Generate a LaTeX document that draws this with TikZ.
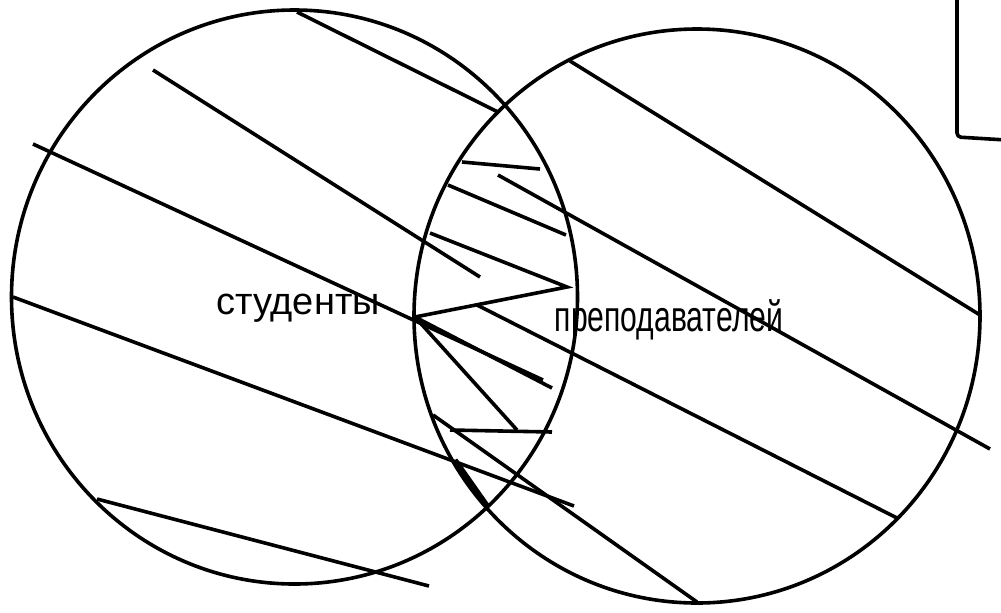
\documentclass[tikz,border=0pt]{standalone}
\usepackage{fontspec}
\setmainfont{Liberation Sans}
\newfontfamily\narrowsans[FakeStretch=0.7]{Liberation Sans}
\usetikzlibrary{positioning}
\definecolor{ink}{RGB}{0,0,0}
\tikzset{
  ring/.style={draw=ink,line width=1.8pt},
  hatch/.style={draw=ink,line width=1.8pt},
  lbl/.style={inner sep=0pt,anchor=base,font=\fontsize{19}{22}\selectfont},
}

\begin{document}
\begin{tikzpicture}[x=0.5pt,y=-0.5pt]
  \useasboundingbox (0,0) rectangle (1001,612);
  % the two sets
  \draw[ring] (294.5,297) ellipse [x radius=283,y radius=287];
  \draw[ring] (697,316) ellipse [x radius=283,y radius=287];
  % corner of a box cut by the page edge
  \draw[ring,rounded corners=2] (957,-4) -- (957,137) -- (1006,140);
  % labels
  \node[lbl] (stud) at (298,314) {студенты};
  \node[lbl,font=\narrowsans\fontsize{21.5}{26}\selectfont] (prep) at (669,331) {преподавателей};
  % hatching
  \coordinate (v) at (415,317);
  \foreach \xa/\ya/\xb/\yb in {297/12/498/112, 153/70/480/277, 33/144/543/380,
      462/162/540/169, 448/185/566/235, 498/175/990/449, 570/61/980/315,
      477/305/897/518, 13/297/574/506, 97/499/429/586, 450/430/552/432,
      433/415/697/602}
    \draw[hatch] (\xa,\ya) -- (\xb,\yb);
  \draw[hatch] (430,233) -- (567,287) -- (v);
  \draw[hatch] (v) -- (552,388);
  \draw[hatch] (v) -- (517,430);
  \draw[hatch,line width=2.6pt] (455,460) -- (488,507);
\end{tikzpicture}
\end{document}
